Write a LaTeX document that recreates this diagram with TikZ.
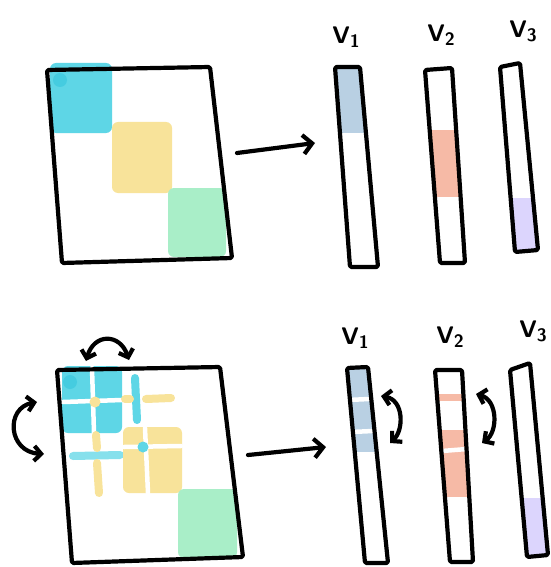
\documentclass[tikz,border=0pt]{standalone}
\usepackage{graphicx}
\usetikzlibrary{arrows.meta}
\definecolor{cy}{HTML}{5ED6E6}
\definecolor{cyd}{HTML}{45CCE0}
\definecolor{ye}{HTML}{F8E39A}
\definecolor{gr}{HTML}{A9EEC8}
\definecolor{bl}{HTML}{B9D0E3}
\definecolor{sa}{HTML}{F6BAA6}
\definecolor{la}{HTML}{DCD5FD}
\tikzset{
  outline/.style={line width=4.2pt, line join=round, line cap=round, rounded corners=1.5pt},
  blob/.style={rounded corners=6pt},
  gap/.style={white, line width=4.5pt, line cap=round},
  stripe/.style={line width=8pt, line cap=round},
  bigarrow/.style={line width=4.2pt, line cap=round, -{Straight Barb[length=9pt,width=19pt]}},
  swap/.style={line width=4.2pt, line cap=round, {Straight Barb[length=7pt,width=15pt]}-{Straight Barb[length=7pt,width=15pt]}},
  lab/.style={font=\sffamily\bfseries\fontsize{24}{24}\selectfont, inner sep=0pt}
}
\newcommand{\vlab}[1]{V\raisebox{-0.35ex}{\scalebox{0.75}{#1}}}
\begin{document}
\begin{tikzpicture}[x=1pt,y=-1pt]
\useasboundingbox (0,0) rectangle (550,567);
\fill[white] (0,0) rectangle (550,567);

% ---------- top matrix ----------
\fill[cy,blob] (50,63) rectangle (112,133);
\fill[cyd] (60,80) circle (7);
\fill[ye,blob] (112,122) rectangle (172,193);
\fill[gr,blob] (168,188) rectangle (226,257);
\draw[outline] (47,70) -- (210,67) -- (232,258) -- (62,263) -- cycle;
\coordinate (m1) at (237,153);
\coordinate (m1t) at (315,143);
\draw[bigarrow] (m1) -- (m1t);

% ---------- top vectors ----------
\begin{scope}
\clip (335,67) -- (360,67) -- (378,267) -- (350,267) -- cycle;
\fill[bl] (320,60) rectangle (380,133);
\end{scope}
\draw[outline] (335,67) -- (360,67) -- (378,267) -- (350,267) -- cycle;
\begin{scope}
\clip (425,70) -- (452,68) -- (465,263) -- (440,263) -- cycle;
\fill[sa] (420,130) rectangle (470,197);
\end{scope}
\draw[outline] (425,70) -- (452,68) -- (465,263) -- (440,263) -- cycle;
\begin{scope}
\clip (500,67) -- (520,63) -- (538,250) -- (515,252) -- cycle;
\fill[la] (495,198) rectangle (545,255);
\end{scope}
\draw[outline] (500,67) -- (520,63) -- (538,250) -- (515,252) -- cycle;
\node[lab] (t1) at (346,37) {\vlab{1}};
\node[lab] (t2) at (441,35) {\vlab{2}};
\node[lab] (t3) at (523,31) {\vlab{3}};

% ---------- bottom matrix ----------
\fill[cy,blob] (62,366) rectangle (122,433);
\fill[cyd] (70,382) circle (7);
\draw[gap] (92,368) -- (94,433);
\draw[gap] (63,402) -- (122,400);
\fill[ye] (95,402) circle (5.5);
\draw[stripe,cy] (135,378) -- (137,420);
\draw[stripe,ye] (125,399) -- (130,399);
\draw[stripe,ye] (146,399) -- (171,398);
\draw[stripe,cy,opacity=0.75] (73,456) -- (120,455);
\draw[stripe,ye] (96,435) -- (97,448);
\draw[stripe,ye] (97,463) -- (99,493);
\fill[ye,blob] (123,427) rectangle (182,493);
\draw[gap] (145,428) -- (148,493);
\draw[gap] (124,447) -- (181,446);
\fill[cy] (143,447) circle (5.5);
\fill[gr,blob] (178,489) rectangle (237,558);
\draw[outline] (57,370) -- (220,367) -- (243,557) -- (72,563) -- cycle;
\coordinate (s1a) at (86,361);
\coordinate (s1b) at (129,360);
\draw[swap] (s1a) .. controls (94,333) and (120,333) .. (s1b);
\coordinate (s2a) at (37,402);
\coordinate (s2b) at (44,454);
\draw[swap] (s2a) .. controls (5,408) and (8,452) .. (s2b);
\coordinate (m2) at (248,455);
\coordinate (m2t) at (326,447);
\draw[bigarrow] (m2) -- (m2t);

% ---------- bottom vectors ----------
\begin{scope}
\clip (347,368) -- (368,367) -- (388,563) -- (365,563) -- cycle;
\fill[bl] (340,360) rectangle (395,452);
\end{scope}
\draw[gap] (348,400) -- (369,399);
\draw[gap] (351,432) -- (373,431);
\draw[outline] (347,368) -- (368,367) -- (388,563) -- (365,563) -- cycle;
\coordinate (r1a) at (381,396);
\coordinate (r1b) at (390,443);
\draw[swap] (r1a) .. controls (404,400) and (404,430) .. (r1b);

\begin{scope}
\clip (435,370) -- (462,370) -- (473,562) -- (450,562) -- cycle;
\fill[sa] (430,394) rectangle (480,401);
\fill[sa] (430,430) rectangle (480,497);
\end{scope}
\draw[gap] (442,451) -- (467,449);
\draw[outline] (435,370) -- (462,370) -- (473,562) -- (450,562) -- cycle;
\coordinate (r2a) at (476,394);
\coordinate (r2b) at (482,443);
\draw[swap] (r2a) .. controls (498,400) and (498,432) .. (r2b);

\begin{scope}
\clip (510,370) -- (530,363) -- (548,555) -- (527,557) -- cycle;
\fill[la] (505,498) rectangle (552,560);
\end{scope}
\draw[outline] (510,370) -- (530,363) -- (548,555) -- (527,557) -- cycle;
\node[lab] (b1) at (355,338) {\vlab{1}};
\node[lab] (b2) at (450,337) {\vlab{2}};
\node[lab] (b3) at (533,331) {\vlab{3}};
\end{tikzpicture}
\end{document}
